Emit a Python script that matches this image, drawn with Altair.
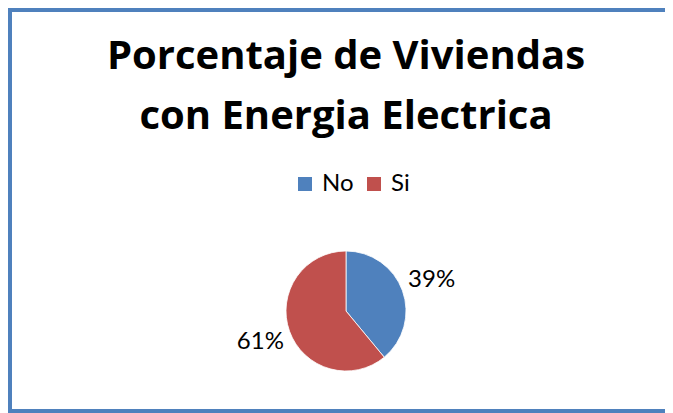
import altair as alt
import pandas as pd

categories = ["No", "Si"]
values = [39, 61]
labels = ["39%", "61%"]
order = [0, 1]
title_lines = ["Porcentaje de Viviendas", "con Energia Electrica"]
colors = ["#4F81BD", "#C0504D"]

df = pd.DataFrame({"cat": categories, "value": values, "label": labels, "ord": order})
one = pd.DataFrame({"k": [0]})

W, H = 657, 405
FONT = "Lato"
TFONT = "Open Sans"
CX, CY, R = 338, 303, 60
BORDER = "#4F81BD"

pie = alt.Chart(df).mark_arc(stroke="white", strokeWidth=0.8).encode(
    theta=alt.Theta("value:Q", stack=True),
    order=alt.Order("ord:Q"),
    color=alt.Color(
        "cat:N",
        scale=alt.Scale(domain=categories, range=colors),
        legend=alt.Legend(
            orient="none", legendX=285, legendY=164, direction="horizontal",
            title=None, symbolType="square", symbolSize=196, symbolStrokeWidth=0,
            labelFontSize=24, labelFont=FONT, labelColor="#000000",
            labelOffset=5, columnPadding=8, padding=0,
        ),
    ),
    x=alt.value(CX), y=alt.value(CY), radius=alt.value(R),
)

lbl = alt.Chart(df).mark_text(font=FONT, fontSize=24, color="#000000").encode(
    theta=alt.Theta("value:Q", stack=True),
    order=alt.Order("ord:Q"),
    text="label:N",
    x=alt.value(CX), y=alt.value(CY), radius=alt.value(91),
)

def title_line(i, ybase):
    d = pd.DataFrame({"t": [title_lines[i]]})
    return alt.Chart(d).mark_text(
        font=TFONT, fontSize=40, fontWeight="bold", color="#000000",
        baseline="alphabetic", align="center",
    ).encode(text="t:N", x=alt.value(CX), y=alt.value(ybase))

t1 = title_line(0, 61)
t2 = title_line(1, 121)

bl = alt.Chart(one).mark_rule(color=BORDER, strokeWidth=4).encode(
    x=alt.value(2), y=alt.value(0), y2=alt.value(H))
bt = alt.Chart(one).mark_rule(color=BORDER, strokeWidth=4).encode(
    x=alt.value(0), x2=alt.value(W), y=alt.value(2))
bb = alt.Chart(one).mark_rule(color=BORDER, strokeWidth=4).encode(
    x=alt.value(0), x2=alt.value(W), y=alt.value(H - 2))

chart = alt.layer(bl, bt, bb, pie, lbl, t1, t2).properties(
    width=W, height=H,
    autosize=alt.AutoSizeParams(type="none"),
    padding=0,
).configure_view(stroke=None)

chart.save("out.html", embed_options={"renderer": "svg", "actions": False})
